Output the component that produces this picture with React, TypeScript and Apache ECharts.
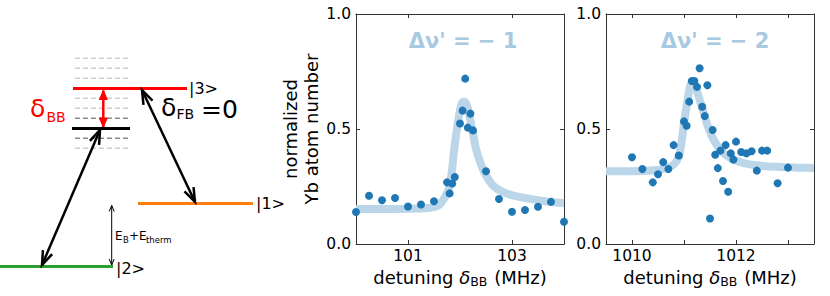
import React, { useEffect, useRef } from "react";
import * as echarts from "echarts";

// ---- Data: Δν' = -1 panel ----
const midX = [100.0, 100.25, 100.5, 100.75, 101.0, 101.25, 101.5, 101.75, 101.8, 101.85, 101.9, 102.0, 102.05, 102.1, 102.15, 102.2, 102.25, 102.5, 102.75, 103.0, 103.25, 103.5, 103.75, 104.0];
const midY = [0.139, 0.21, 0.19, 0.2, 0.163, 0.172, 0.186, 0.268, 0.22, 0.263, 0.291, 0.524, 0.58, 0.719, 0.506, 0.567, 0.494, 0.316, 0.196, 0.14, 0.148, 0.162, 0.183, 0.097];
const midFitX = [100.0, 100.5, 101.0, 101.3, 101.5, 101.6, 101.68, 101.78, 101.84, 101.88, 101.94, 101.99, 102.04, 102.09, 102.14, 102.19, 102.26, 102.32, 102.42, 102.51, 102.64, 102.8, 103.03, 103.35, 103.67, 104.0];
const midFitY = [0.152, 0.152, 0.153, 0.155, 0.16, 0.17, 0.193, 0.236, 0.309, 0.396, 0.497, 0.57, 0.613, 0.618, 0.598, 0.548, 0.468, 0.403, 0.337, 0.294, 0.253, 0.229, 0.21, 0.196, 0.185, 0.178];

// ---- Data: Δν' = -2 panel ----
const rightX = [1010.0, 1010.2, 1010.4, 1010.5, 1010.6, 1010.7, 1010.8, 1010.9, 1011.0, 1011.05, 1011.1, 1011.15, 1011.2, 1011.25, 1011.3, 1011.35, 1011.4, 1011.45, 1011.5, 1011.55, 1011.6, 1011.65, 1011.7, 1011.75, 1011.8, 1011.85, 1011.9, 1011.95, 1012.0, 1012.1, 1012.2, 1012.3, 1012.4, 1012.5, 1012.6, 1012.8, 1013.0];
const rightY = [0.377, 0.326, 0.268, 0.303, 0.356, 0.326, 0.43, 0.385, 0.533, 0.514, 0.619, 0.709, 0.709, 0.683, 0.764, 0.597, 0.556, 0.69, 0.111, 0.496, 0.388, 0.33, 0.406, 0.274, 0.43, 0.227, 0.394, 0.367, 0.445, 0.4, 0.394, 0.403, 0.319, 0.406, 0.406, 0.264, 0.332];
const rightFitX = [1009.5, 1010.0, 1010.5, 1010.65, 1010.8, 1010.9, 1010.96, 1011.0, 1011.06, 1011.11, 1011.16, 1011.21, 1011.26, 1011.31, 1011.38, 1011.47, 1011.57, 1011.7, 1011.89, 1012.15, 1012.47, 1012.86, 1013.25, 1013.5];
const rightFitY = [0.316, 0.316, 0.322, 0.33, 0.345, 0.381, 0.453, 0.526, 0.613, 0.678, 0.707, 0.693, 0.657, 0.62, 0.57, 0.504, 0.453, 0.41, 0.374, 0.352, 0.34, 0.335, 0.332, 0.33];

// ---- Ticks / labels ----
const midTicks = [101, 103];
const rightTicks = [1010, 1011, 1012, 1013];
const rightLabels = [1010, 1012];
const titles = ["Δν' = − 1", "Δν' = − 2"];

const FONT = "DejaVu Sans";
const DOT = "#1f77b4";
const FIT = "#bcd6e9";
const TITLE_C = "#a7c9e2";
const FRAME = "#333";

function zip(xs: number[], ys: number[]) {
  return xs.map((x, i) => [x, ys[i]]);
}

function arrowV(tx: number, ty: number, fx: number, fy: number, len: number, hw: number) {
  const dx = fx - tx, dy = fy - ty;
  const L = Math.hypot(dx, dy);
  const ux = dx / L, uy = dy / L;
  const bx = tx + ux * len, by = ty + uy * len;
  const px = -uy, py = ux;
  return [[bx + px * hw, by + py * hw], [tx, ty], [bx - px * hw, by - py * hw]];
}

function doubleArrow(x1: number, y1: number, x2: number, y2: number, color: string, w: number, len: number, hw: number, filled: boolean) {
  const els: any[] = [];
  els.push({ type: "line", shape: { x1, y1, x2, y2 }, style: { stroke: color, lineWidth: w } });
  const h1 = arrowV(x1, y1, x2, y2, len, hw);
  const h2 = arrowV(x2, y2, x1, y1, len, hw);
  for (const h of [h1, h2]) {
    if (filled) {
      els.push({ type: "polygon", shape: { points: h }, style: { fill: color, stroke: color, lineWidth: 1 } });
    } else {
      els.push({ type: "polyline", shape: { points: h }, style: { stroke: color, lineWidth: w, fill: "none" } });
    }
  }
  return els;
}

function txt(x: number, y: number, text: string, size: number, color = "#000", extra: any = {}) {
  return {
    type: "text",
    x,
    y,
    style: {
      text,
      fontSize: size,
      fontFamily: FONT,
      fill: color,
      textVerticalAlign: "middle",
      lineHeight: Math.round(size * 0.9),
      ...extra,
    },
  };
}

function buildDiagram() {
  const g: any[] = [];
  const dashY = [58.3, 68.3, 78.3, 98.3, 108.3, 118.3, 138.3, 148.3];
  const darker = [118.3, 138.3];
  for (const y of dashY) {
    g.push({
      type: "line",
      shape: { x1: 75, y1: y, x2: 130, y2: y },
      style: { stroke: darker.includes(y) ? "#8a8a8a" : "#cdcdcd", lineWidth: 1.5, lineDash: [5, 3] },
    });
  }
  g.push({ type: "line", shape: { x1: 73, y1: 88.5, x2: 187, y2: 88.5 }, style: { stroke: "#ff0000", lineWidth: 3 } });
  g.push({ type: "line", shape: { x1: 72, y1: 128.5, x2: 130, y2: 128.5 }, style: { stroke: "#000", lineWidth: 3 } });
  g.push({ type: "line", shape: { x1: 138, y1: 203.5, x2: 253, y2: 203.5 }, style: { stroke: "#ff7f0e", lineWidth: 3 } });
  g.push({ type: "line", shape: { x1: 0, y1: 266.5, x2: 113, y2: 266.5 }, style: { stroke: "#2ca02c", lineWidth: 3 } });

  g.push(...doubleArrow(103.3, 90.5, 103.3, 127, "#ff0000", 2.5, 9, 4, true));
  g.push(...doubleArrow(100, 130, 42, 265, "#000", 2.5, 14, 5, false));
  g.push(...doubleArrow(142, 90, 195, 202, "#000", 2.5, 14, 5, false));
  g.push(...doubleArrow(111.7, 205.5, 111.7, 265, "#000", 1, 6, 2.5, false));

  g.push(txt(189, 88, "|3>", 16));
  g.push(txt(256, 203, "|1>", 16));
  g.push(txt(116, 268, "|2>", 16));

  g.push(txt(30, 108, "δ", 25, "#ff0000"));
  g.push(txt(46.5, 117, "BB", 14, "#ff0000"));

  g.push(txt(161, 107, "δ", 25, "#000"));
  g.push(txt(176.5, 114, "FB", 14, "#000"));
  g.push(txt(201, 109, "=0", 25, "#000"));

  g.push(txt(115, 236, "E", 12));
  g.push(txt(123, 240, "B", 8.5));
  g.push(txt(129, 236, "+E", 12));
  g.push(txt(146, 240, "therm", 8.5));
  return g;
}

function xAxisPair(min: number, max: number, ticks: number[], labels: number[], gridIndex: number, withName: boolean) {
  const bottom: any = {
    type: "value",
    gridIndex,
    position: "bottom",
    min,
    max,
    axisLine: { show: true, onZero: false, lineStyle: { color: FRAME, width: 1 } },
    axisTick: { show: true, inside: true, length: 4, customValues: ticks, lineStyle: { color: FRAME } },
    axisLabel: {
      show: true,
      customValues: labels,
      fontSize: 15.5,
      fontFamily: FONT,
      color: "#000",
      margin: 4,
      formatter: (v: number) => String(Math.round(v)),
    },
    splitLine: { show: false },
  };
  if (withName) {
    bottom.name = "{a|detuning }{i|δ}{s|BB}{a| (MHz)}";
    bottom.nameLocation = "middle";
    bottom.nameGap = 22;
    bottom.nameTextStyle = {
      rich: {
        a: { fontSize: 18, fontFamily: FONT, color: "#000" },
        i: { fontSize: 18, fontFamily: FONT, fontStyle: "italic", color: "#000" },
        s: { fontSize: 12.5, fontFamily: FONT, color: "#000", padding: [8, 1, 0, 0] },
      },
    };
  }
  const top: any = {
    type: "value",
    gridIndex,
    position: "top",
    min,
    max,
    axisLine: { show: true, onZero: false, lineStyle: { color: FRAME, width: 1 } },
    axisTick: { show: true, inside: true, length: 4, customValues: ticks, lineStyle: { color: FRAME } },
    axisLabel: { show: false },
    splitLine: { show: false },
  };
  return [bottom, top];
}

function yAxisPair(gridIndex: number, withName: boolean) {
  const left: any = {
    type: "value",
    gridIndex,
    position: "left",
    min: 0,
    max: 1,
    interval: 0.5,
    axisLine: { show: true, onZero: false, lineStyle: { color: FRAME, width: 1 } },
    axisTick: { show: true, inside: true, length: 4, lineStyle: { color: FRAME } },
    axisLabel: { show: true, fontSize: 15.5, fontFamily: FONT, color: "#000", margin: 5, formatter: (v: number) => v.toFixed(1) },
    splitLine: { show: false },
  };
  if (withName) {
    left.name = "normalized\nYb atom number";
    left.nameLocation = "middle";
    left.nameRotate = 90;
    left.nameGap = 26;
    left.nameTextStyle = { fontSize: 18, fontFamily: FONT, color: "#000", lineHeight: 21 };
  }
  const right: any = {
    type: "value",
    gridIndex,
    position: "right",
    min: 0,
    max: 1,
    interval: 0.5,
    axisLine: { show: true, onZero: false, lineStyle: { color: FRAME, width: 1 } },
    axisTick: { show: true, inside: true, length: 4, lineStyle: { color: FRAME } },
    axisLabel: { show: false },
    splitLine: { show: false },
  };
  return [left, right];
}

export default function App() {
  const ref = useRef<HTMLDivElement>(null);
  useEffect(() => {
    if (!ref.current) return;
    const chart = echarts.init(ref.current, undefined, { renderer: "svg" });
    const graphic: any[] = buildDiagram();
    graphic.push(txt(463, 41, titles[0], 21, TITLE_C, { fontWeight: "bold", textAlign: "center" }));
    graphic.push(txt(715, 41, titles[1], 21, TITLE_C, { fontWeight: "bold", textAlign: "center" }));

    const option: any = {
      animation: false,
      backgroundColor: "#fff",
      textStyle: { fontFamily: FONT },
      grid: [
        { left: 356, top: 14, width: 208, height: 230 },
        { left: 606, top: 14, width: 208, height: 230 },
      ],
      xAxis: [
        ...xAxisPair(100, 104, midTicks, midTicks, 0, true),
        ...xAxisPair(1009.5, 1013.5, rightTicks, rightLabels, 1, true),
      ],
      yAxis: [...yAxisPair(0, true), ...yAxisPair(1, false)],
      series: [
        {
          type: "line",
          xAxisIndex: 0,
          yAxisIndex: 0,
          data: zip(midFitX, midFitY),
          smooth: 0.3,
          showSymbol: false,
          lineStyle: { color: FIT, width: 8 },
          z: 1,
        },
        {
          type: "scatter",
          xAxisIndex: 0,
          yAxisIndex: 0,
          data: zip(midX, midY),
          symbolSize: 8,
          itemStyle: { color: DOT, opacity: 1 },
          z: 3,
        },
        {
          type: "line",
          xAxisIndex: 2,
          yAxisIndex: 2,
          data: zip(rightFitX, rightFitY),
          smooth: 0.3,
          showSymbol: false,
          lineStyle: { color: FIT, width: 8 },
          z: 1,
        },
        {
          type: "scatter",
          xAxisIndex: 2,
          yAxisIndex: 2,
          data: zip(rightX, rightY),
          symbolSize: 8,
          itemStyle: { color: DOT, opacity: 1 },
          z: 3,
        },
      ],
      graphic,
    };
    chart.setOption(option);
    return () => chart.dispose();
  }, []);
  return (
    <div
      ref={ref}
      style={{ position: "fixed", left: 0, top: 0, width: 830, height: 296, background: "#fff" }}
    />
  );
}
